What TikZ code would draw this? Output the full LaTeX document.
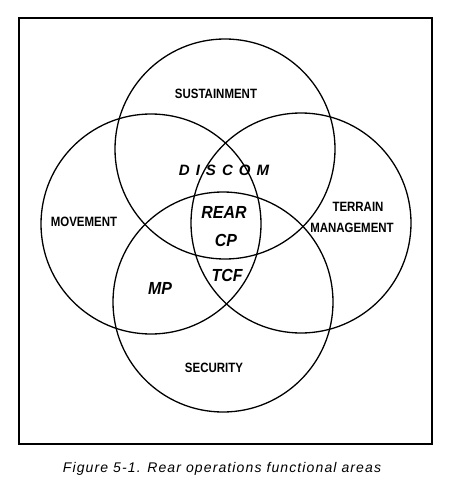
\documentclass[tikz,border=0pt]{standalone}
\usepackage{fontspec}
\setmainfont{Liberation Sans}
\usetikzlibrary{positioning}

\begin{document}
\begin{tikzpicture}[x=1pt,y=-1pt,
    area/.style={font=\bfseries\fontsize{13.5}{14}\selectfont,xscale=0.85,inner sep=0pt},
    core/.style={font=\bfseries\itshape\fontsize{17.5}{18}\selectfont,xscale=0.91,inner sep=0pt},
    ring/.style={line width=1.3pt}]
    \useasboundingbox (0,0) rectangle (450,492);
    \draw[line width=2.2pt] (19,18) rectangle (432,444);
    % the four functional areas
    \draw[ring] (225,149) circle (110pt);
    \draw[ring] (151,224) circle (110pt);
    \draw[ring] (301,223) circle (110pt);
    \draw[ring] (223,302) circle (110pt);
    \node[area] (sust) at (216,94) {SUSTAINMENT};
    \node[area] (move) at (84,222) {MOVEMENT};
    \node[area] (terr) at (358,207) {TERRAIN};
    \node[area] (mgmt) at (352,228) {MANAGEMENT};
    \node[area] (secu) at (214,368) {SECURITY};
    % units in the overlaps
    \node[core,font=\bfseries\itshape\fontsize{15}{16}\selectfont,xscale=1.1] (discom) at (224,170)
        {D\kern6pt I\kern6pt S\kern6pt C\kern6pt O\kern6pt M};
    \node[core] (rear) at (224,212) {REAR};
    \node[core] (cp) at (226,240) {CP};
    \node[core] (tcf) at (227,275) {TCF};
    \node[core] (mp) at (160,288) {MP};
    \node[font=\itshape\fontsize{14}{15}\selectfont\addfontfeature{LetterSpace=8},
        anchor=base,inner sep=0pt] (capt) at (222,472)
        {Figure 5-1. Rear operations functional areas};
\end{tikzpicture}
\end{document}
